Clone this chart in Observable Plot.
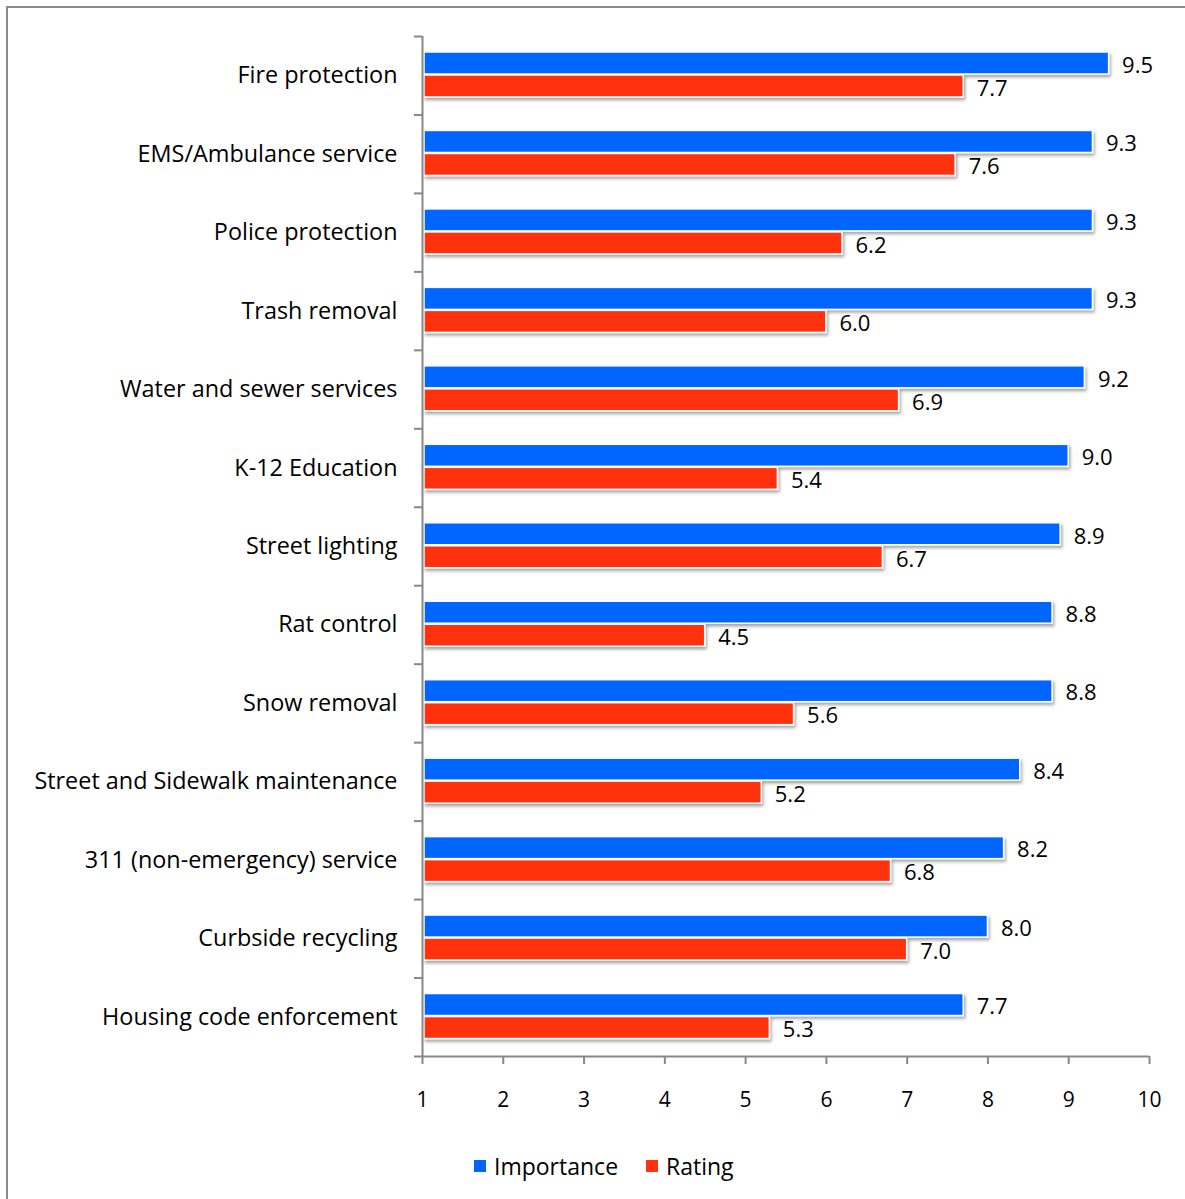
<!DOCTYPE html>
<html>
<head>
<meta charset="utf-8">
<script src="https://cdn.jsdelivr.net/npm/d3@7"></script>
<script src="https://cdn.jsdelivr.net/npm/@observablehq/plot@0.6"></script>
<style>
  html, body { margin: 0; padding: 0; background: #fff; overflow: hidden; }
  #wrap { position: relative; width: 1185px; height: 1199px; overflow: hidden; font-family: "Open Sans", sans-serif; }
  #frame { position: absolute; left: 6px; top: 6px; width: 1220px; height: 1230px; border: 2px solid #8a8a8a; box-sizing: border-box; }
  #chart { position: absolute; left: 0; top: 0; }
  #legend { position: absolute; left: 0; top: 1150px; width: 1185px; height: 32px; font-size: 23px; color: #000; }
  .item { position: absolute; top: 0; display: flex; align-items: center; height: 32px; }
  .sw { width: 12px; height: 12px; margin-right: 8px; }
</style>
</head>
<body>
<div id="wrap">
  <div id="frame"></div>
  <div id="chart"></div>
  <div id="legend"></div>
</div>
<script>
const categories = [
  "Fire protection",
  "EMS/Ambulance service",
  "Police protection",
  "Trash removal",
  "Water and sewer services",
  "K-12 Education",
  "Street lighting",
  "Rat control",
  "Snow removal",
  "Street and Sidewalk maintenance",
  "311 (non-emergency) service",
  "Curbside recycling",
  "Housing code enforcement"
];
const importance = [9.5, 9.3, 9.3, 9.3, 9.2, 9.0, 8.9, 8.8, 8.8, 8.4, 8.2, 8.0, 7.7];
const rating = [7.7, 7.6, 6.2, 6.0, 6.9, 5.4, 6.7, 4.5, 5.6, 5.2, 6.8, 7.0, 5.3];
const xTicks = [1, 2, 3, 4, 5, 6, 7, 8, 9, 10];
const seriesNames = ["Importance", "Rating"];
const seriesColors = ["#0066ff", "#ff3311"];

const rows = categories.map((c, i) => ({category: c, importance: importance[i], rating: rating[i]}));

const W = 1185, H = 1130, mt = 36, mb = 74, ml = 422, mr = 36;
const step = (H - mt - mb) / categories.length;
const axisGray = "#888888";

const chart = Plot.plot({
  width: W, height: H,
  marginLeft: ml, marginRight: mr, marginTop: mt, marginBottom: mb,
  style: {fontFamily: "'Open Sans', sans-serif", fontSize: "21px", color: "#000", background: "transparent", overflow: "visible"},
  x: {domain: [xTicks[0], xTicks[xTicks.length - 1]]},
  y: {domain: categories, padding: 0, round: false},
  marks: [
    Plot.barX(rows, {y: "category", x1: xTicks[0], x2: "importance", fill: seriesColors[0], stroke: "white", strokeWidth: 1.5, insetTop: 16, insetBottom: step - 38, insetLeft: 2}),
    Plot.barX(rows, {y: "category", x1: xTicks[0], x2: "rating", fill: seriesColors[1], stroke: "white", strokeWidth: 1.5, insetTop: 39, insetBottom: step - 61, insetLeft: 2}),
    Plot.text(rows, {y: "category", x: "importance", text: d => d.importance.toFixed(1), dx: 13, dy: -10, textAnchor: "start", fontSize: 22, fill: "#000"}),
    Plot.text(rows, {y: "category", x: "rating", text: d => d.rating.toFixed(1), dx: 13, dy: 13, textAnchor: "start", fontSize: 22, fill: "#000"}),
    Plot.ruleX([xTicks[0]], {stroke: axisGray, strokeWidth: 2}),
    Plot.ruleY(categories, {y: d => d, dy: -step / 2, x1: xTicks[0], x2: xTicks[0], insetLeft: -8, stroke: axisGray, strokeWidth: 2}),
    Plot.ruleY([categories[categories.length - 1]], {y: d => d, dy: step / 2, x1: xTicks[0], x2: xTicks[xTicks.length - 1], insetLeft: -8, stroke: axisGray, strokeWidth: 2}),
    Plot.axisX({ticks: xTicks, tickFormat: d => String(d), tickSize: 8, tickPadding: 28, stroke: axisGray, strokeWidth: 2, label: null, fontSize: 21}),
    Plot.axisY({tickSize: 0, tickPadding: 25, label: null, fontSize: 23.4})
  ]
});

// drop shadow for bars
const svg = d3.select(chart);
const defs = svg.insert("defs", ":first-child");
const f = defs.append("filter").attr("id", "shadow").attr("x", "-5%").attr("y", "-50%").attr("width", "110%").attr("height", "200%");
f.append("feDropShadow").attr("dx", 1.5).attr("dy", 2.5).attr("stdDeviation", 1.5).attr("flood-color", "#000").attr("flood-opacity", 0.35);
svg.selectAll("g[aria-label='bar']").attr("filter", "url(#shadow)");

document.getElementById("chart").appendChild(chart);

// legend
const legend = document.getElementById("legend");
const lefts = [474, 646];
seriesNames.forEach((name, i) => {
  const it = document.createElement("div");
  it.className = "item";
  it.style.left = lefts[i] + "px";
  const sw = document.createElement("span");
  sw.className = "sw";
  sw.style.background = seriesColors[i];
  const tx = document.createElement("span");
  tx.textContent = name;
  it.appendChild(sw);
  it.appendChild(tx);
  legend.appendChild(it);
});
</script>
</body>
</html>
